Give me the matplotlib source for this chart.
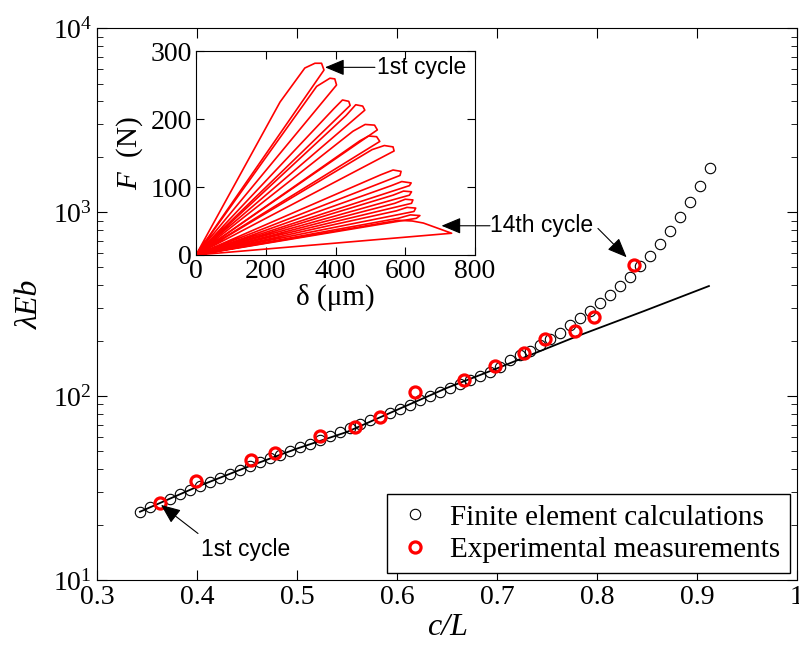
import matplotlib
matplotlib.use("Agg")
import matplotlib.pyplot as plt
from matplotlib.ticker import LogLocator, NullFormatter

plt.rcParams["font.family"] = ["Liberation Serif", "DejaVu Serif"]
plt.rcParams["mathtext.fontset"] = "custom"
plt.rcParams["mathtext.rm"] = "Liberation Serif"
plt.rcParams["mathtext.it"] = "Liberation Serif:italic"

# finite element calculations (c/L, lambda*E*b)
fe_x = [0.343, 0.353, 0.363, 0.373, 0.383, 0.393, 0.403, 0.413, 0.423, 0.433,
        0.443, 0.453, 0.463, 0.473, 0.483, 0.493, 0.503, 0.513, 0.523, 0.533,
        0.543, 0.553, 0.563, 0.573, 0.583, 0.593, 0.603, 0.613, 0.623, 0.633,
        0.643, 0.653, 0.663, 0.673, 0.683, 0.693, 0.703, 0.713, 0.723, 0.733,
        0.743, 0.753, 0.763, 0.773, 0.783, 0.793, 0.803, 0.813, 0.823, 0.833,
        0.843, 0.853, 0.863, 0.873, 0.883, 0.893, 0.903, 0.913]
fe_y = [23.5, 24.8, 26.3, 27.7, 29.2, 30.8, 32.5, 34.2, 36.0, 37.8,
        39.7, 41.7, 43.8, 45.8, 48.0, 50.2, 52.6, 55.2, 57.9, 60.8,
        63.8, 67.0, 70.3, 73.8, 77.4, 81.3, 85.5, 89.9, 94.6, 99.5,
        104.7, 110.2, 115.9, 121.9, 128.2, 134.9, 144.5, 157.0, 167.1, 176.2,
        189.2, 203.2, 220.8, 243.2, 264.2, 291.1, 319.2, 354.0, 396.3, 443.6,
        509.3, 579.4, 669.9, 790.7, 935.4, 1129.8, 1383.6, 1741.8]

# analytical line
an_x = [0.343, 0.40, 0.45, 0.50, 0.55, 0.60, 0.65, 0.70, 0.78, 0.847, 0.912]
an_y = [23.5, 32.1, 41.1, 51.8, 63.8, 84.1, 110.7, 141.3, 211.3, 289.7, 396.3]

# experimental measurements
ex_x = [0.363, 0.399, 0.454, 0.478, 0.523, 0.558, 0.583, 0.618, 0.667, 0.698,
        0.727, 0.748, 0.778, 0.797, 0.837]
ex_y = [26.3, 34.5, 44.9, 49.2, 60.5, 68.0, 76.6, 105.5, 123.0, 146.0,
        172.0, 203.0, 225.0, 270.0, 515.0]

# inset: force-displacement cycles (delta in um, F in N)
cyc_d = [
    [0, 241, 312, 341, 360, 367, 0],
    [0, 346, 384, 398, 403, 0],
    [0, 395, 420, 438, 442, 0],
    [0, 430, 458, 478, 484, 0],
    [0, 450, 485, 512, 520, 0],
    [0, 470, 495, 518, 527, 0],
    [0, 505, 540, 565, 568, 0],
    [0, 530, 565, 588, 585, 0],
    [0, 560, 590, 617, 612, 0],
    [0, 565, 595, 618, 612, 0],
    [0, 570, 600, 622, 618, 0],
    [0, 575, 605, 630, 625, 0],
    [0, 580, 615, 642, 632, 0],
    [0, 545, 580, 620, 652, 733, 0],
]
cyc_f = [
    [0, 225, 275, 282, 282, 272, 0],
    [0, 248, 260, 259, 250, 0],
    [0, 215, 228, 226, 220, 0],
    [0, 205, 221, 219, 213, 0],
    [0, 182, 192, 191, 184, 0],
    [0, 168, 175, 174, 167, 0],
    [0, 155, 161, 159, 153, 0],
    [0, 118, 125, 123, 117, 0],
    [0, 102, 108, 106, 102, 0],
    [0, 88, 94, 93, 88, 0],
    [0, 76, 82, 81, 76, 0],
    [0, 65, 70, 69, 64, 0],
    [0, 54, 59, 58, 54, 0],
    [0, 48, 51, 50, 47, 32, 0],
]

fig = plt.figure(figsize=(7.99, 6.5), dpi=100)
ax = fig.add_axes([0.1214, 0.1077, 0.876, 0.849])

ax.plot(an_x, an_y, color="k", lw=1.3)
ax.plot(fe_x, fe_y, ls="none", marker="o", ms=7.5, mfc="none", mec="k",
        mew=0.8, label="Finite element calculations")
ax.plot(ex_x, ex_y, ls="none", marker="o", ms=8, mfc="none", mec="red",
        mew=2.3, label="Experimental measurements")

ax.set_yscale("log")
ax.set_xlim(0.3, 1.0)
ax.set_ylim(10, 1e4)
ax.set_xticks([0.3, 0.4, 0.5, 0.6, 0.7, 0.8, 0.9, 1.0])
ax.set_xticklabels(["0.3", "0.4", "0.5", "0.6", "0.7", "0.8", "0.9", "1"])
ax.yaxis.set_minor_locator(LogLocator(base=10, subs=range(2, 10)))
ax.yaxis.set_minor_formatter(NullFormatter())
ax.tick_params(which="both", direction="in", top=True, right=True, labelsize=20)
ax.tick_params(which="major", length=7)
ax.tick_params(which="minor", length=4)
ax.set_xlabel("c/L", fontsize=23, style="italic", labelpad=2)
ax.set_ylabel("λEb", fontsize=23, style="italic", labelpad=6)

leg = ax.legend(loc="lower right", bbox_to_anchor=(0.9887, 0.1185),
                bbox_transform=fig.transFigure, borderaxespad=0,
                fontsize=21, fancybox=False, edgecolor="k", framealpha=1,
                handlelength=1.2, handletextpad=0.6, labelspacing=0.2,
                borderpad=0.35)
leg.get_frame().set_linewidth(1.0)

arr = dict(arrowstyle="-|>,head_length=0.6,head_width=0.25", color="k",
           lw=0.8, mutation_scale=20, shrinkA=0, shrinkB=0)
sans = ["Liberation Sans", "DejaVu Sans"]

# "1st cycle" on main plot
ax.annotate("", xy=(0.364, 25.6), xytext=(0.401, 17.9), arrowprops=arr)
ax.text(0.404, 14.6, "1st cycle", family=sans, fontsize=16.5, ha="left", va="center")

# "14th cycle" text and arrow to red point
ax.text(0.693, 850, "14th cycle", family=sans, fontsize=16.5, ha="left", va="center")
ax.annotate("", xy=(0.8297, 568), xytext=(0.801, 815), arrowprops=arr)

# inset
ins = fig.add_axes([0.2453, 0.6077, 0.3492, 0.3138])
for d, f in zip(cyc_d, cyc_f):
    ins.plot(d, f, color="red", lw=1.2)
ins.set_xlim(0, 800)
ins.set_ylim(0, 300)
ins.set_xticks([0, 200, 400, 600, 800])
ins.set_yticks([0, 100, 200, 300])
ins.tick_params(direction="in", top=True, right=True, labelsize=20, length=6, pad=3)
ins.set_xlabel("δ (μm)", fontsize=21, labelpad=0)
ins.set_ylabel("$F$  (N)", fontsize=21, labelpad=4)

ins.annotate("", xy=(370, 276), xytext=(513, 276), arrowprops=arr)
ins.text(520, 276, "1st cycle", family=sans, fontsize=16.5, ha="left", va="center")
ins.annotate("", xy=(704, 43), xytext=(843, 43), arrowprops=arr,
             annotation_clip=False)

fig.savefig("out.png", dpi=100)
